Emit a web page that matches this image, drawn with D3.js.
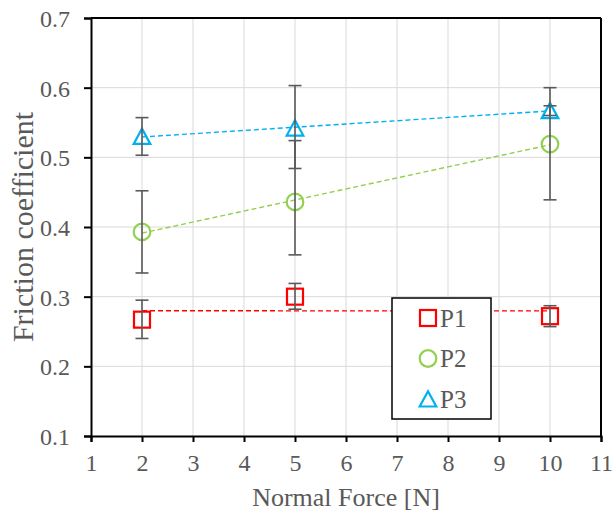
<!DOCTYPE html>
<html>
<head>
<meta charset="utf-8">
<script src="https://cdn.jsdelivr.net/npm/d3@7"></script>
<style>
  html, body { margin: 0; padding: 0; background: #fff; }
  svg { display: block; }
</style>
</head>
<body>
<svg id="chart" width="613" height="518"></svg>
<script>
// ---- data ----
const forces = [2, 5, 10];
const seriesNames = ["P1", "P2", "P3"];
const p1 = [0.267, 0.300, 0.272];
const p1Low = [0.240, 0.282, 0.257];
const p1High = [0.295, 0.319, 0.287];
const p2 = [0.393, 0.436, 0.519];
const p2Low = [0.334, 0.360, 0.439];
const p2High = [0.452, 0.524, 0.600];
const p3 = [0.530, 0.542, 0.567];
const p3Low = [0.503, 0.484, 0.560];
const p3High = [0.557, 0.603, 0.574];
const xTicks = [1, 2, 3, 4, 5, 6, 7, 8, 9, 10, 11];
const yTicks = [0.1, 0.2, 0.3, 0.4, 0.5, 0.6, 0.7];
const colors = ["#FF0000", "#92D050", "#00B0F0"];
const shapes = ["square", "circle", "triangle"];

const FONT = "Liberation Serif";
const TXT = "#595959";

const series = [
  { name: seriesNames[0], values: p1, low: p1Low, high: p1High, color: colors[0], shape: shapes[0] },
  { name: seriesNames[1], values: p2, low: p2Low, high: p2High, color: colors[1], shape: shapes[1] },
  { name: seriesNames[2], values: p3, low: p3Low, high: p3High, color: colors[2], shape: shapes[2] }
];

const W = 613, H = 518;
const margin = { left: 91, right: 12, top: 18, bottom: 82 };
const svg = d3.select("#chart");

const x = d3.scaleLinear().domain([1, 11]).range([margin.left, W - margin.right]);
const y = d3.scaleLinear().domain([0.1, 0.7]).range([H - margin.bottom, margin.top]);

// gridlines
const g = svg.append("g");
g.selectAll("line.vg").data(xTicks.slice(1, -1)).enter().append("line")
  .attr("x1", d => x(d)).attr("x2", d => x(d))
  .attr("y1", y(0.1)).attr("y2", y(0.7))
  .attr("stroke", "#d9d9d9").attr("stroke-width", 1);
g.selectAll("line.hg").data(yTicks.slice(1, -1)).enter().append("line")
  .attr("x1", x(1)).attr("x2", x(11))
  .attr("y1", d => y(d)).attr("y2", d => y(d))
  .attr("stroke", "#d9d9d9").attr("stroke-width", 1);

// axes
const xAxis = d3.axisBottom(x).tickValues(xTicks).tickSize(6).tickPadding(12).tickFormat(d3.format("d"));
const yAxis = d3.axisLeft(y).tickValues(yTicks).tickSize(7).tickPadding(14).tickFormat(d3.format(".1f"));
const gx = svg.append("g").attr("transform", `translate(0,${y(0.1)})`).call(xAxis);
const gy = svg.append("g").attr("transform", `translate(${x(1)},0)`).call(yAxis);
[gx, gy].forEach(a => {
  a.attr("font-family", FONT).attr("font-size", 24);
  a.select(".domain").attr("stroke", "#000").attr("stroke-width", 2);
  a.selectAll(".tick line").attr("stroke", "#000").attr("stroke-width", 2);
  a.selectAll(".tick text").style("font-family", FONT).style("font-size", "24px").attr("fill", TXT);
});
gy.selectAll(".tick text").attr("dy", "0.35em");
// top and right border
svg.append("line").attr("x1", x(1)).attr("x2", x(11)).attr("y1", y(0.7)).attr("y2", y(0.7))
  .attr("stroke", "#000").attr("stroke-width", 2);
svg.append("line").attr("x1", x(11)).attr("x2", x(11)).attr("y1", y(0.7)).attr("y2", y(0.1))
  .attr("stroke", "#000").attr("stroke-width", 2);

// trend lines (least squares fit of each series)
function fit(xs, ys) {
  const mx = d3.mean(xs), my = d3.mean(ys);
  let num = 0, den = 0;
  xs.forEach((xv, i) => { num += (xv - mx) * (ys[i] - my); den += (xv - mx) ** 2; });
  const b = num / den;
  return xv => my + b * (xv - mx);
}
const xMin = d3.min(forces), xMax = d3.max(forces);
series.forEach(s => {
  const f = fit(forces, s.values);
  svg.append("line")
    .attr("x1", x(xMin)).attr("y1", y(f(xMin)))
    .attr("x2", x(xMax)).attr("y2", y(f(xMax)))
    .attr("stroke", s.color).attr("stroke-width", 1.4)
    .attr("stroke-dasharray", "5,3");
});

// marker drawing
function drawMarker(sel, shape, cx, cy, color) {
  if (shape === "square") {
    sel.append("rect").attr("x", cx - 8).attr("y", cy - 8).attr("width", 16).attr("height", 16)
      .attr("fill", "none").attr("stroke", color).attr("stroke-width", 2.2);
  } else if (shape === "circle") {
    sel.append("circle").attr("cx", cx).attr("cy", cy).attr("r", 8.3)
      .attr("fill", "none").attr("stroke", color).attr("stroke-width", 2.2);
  } else {
    const p = d3.path();
    p.moveTo(cx, cy - 7.8); p.lineTo(cx + 8.3, cy + 7.5); p.lineTo(cx - 8.3, cy + 7.5); p.closePath();
    sel.append("path").attr("d", p.toString())
      .attr("fill", "none").attr("stroke", color).attr("stroke-width", 2.2)
      .attr("stroke-linejoin", "miter");
  }
}

// markers
series.forEach(s => {
  const gg = svg.append("g");
  forces.forEach((fx, i) => drawMarker(gg, s.shape, x(fx), y(s.values[i]), s.color));
});

// error bars on top
series.forEach(s => {
  const ge = svg.append("g").attr("stroke", "#595959").attr("stroke-width", 1.6);
  forces.forEach((fx, i) => {
    const cx = x(fx);
    ge.append("line").attr("x1", cx).attr("x2", cx).attr("y1", y(s.low[i])).attr("y2", y(s.high[i]));
    [s.low[i], s.high[i]].forEach(v => {
      ge.append("line").attr("x1", cx - 6.5).attr("x2", cx + 6.5).attr("y1", y(v)).attr("y2", y(v));
    });
  });
});

// axis titles
svg.append("text").attr("x", (x(1) + x(11)) / 2).attr("y", 506)
  .attr("text-anchor", "middle").attr("fill", TXT)
  .style("font-family", FONT).style("font-size", "26px").text("Normal Force [N]");
svg.append("text").attr("transform", `translate(33,${(y(0.1) + y(0.7)) / 2}) rotate(-90)`)
  .attr("text-anchor", "middle").attr("fill", TXT)
  .style("font-family", FONT).style("font-size", "30px").text("Friction coefficient");

// legend
const lg = svg.append("g");
lg.append("rect").attr("x", 392).attr("y", 298).attr("width", 99).attr("height", 121)
  .attr("fill", "#fff").attr("stroke", "#000").attr("stroke-width", 1.5);
series.forEach((s, i) => {
  const cy = 318 + i * 40.5;
  drawMarker(lg, s.shape, 428, cy, s.color);
  lg.append("text").attr("x", 440).attr("y", cy).attr("dy", "0.35em").attr("fill", TXT)
    .style("font-family", FONT).style("font-size", "25px").text(s.name);
});
</script>
</body>
</html>
